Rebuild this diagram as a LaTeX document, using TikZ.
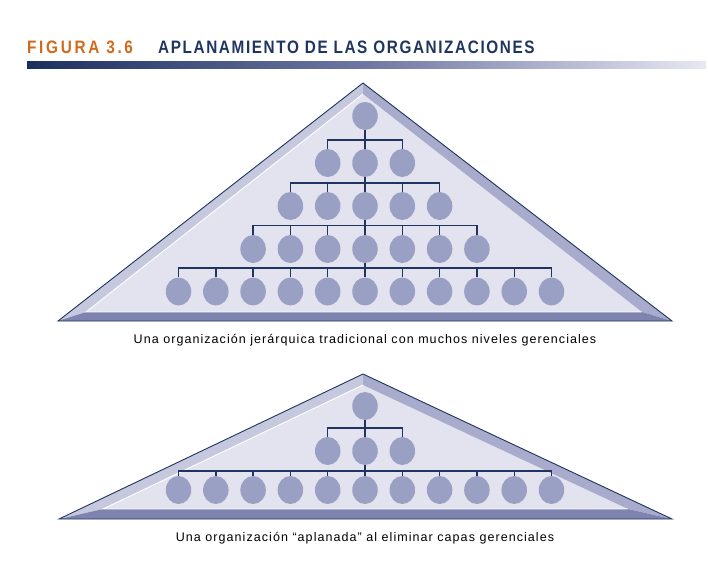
\documentclass[tikz,border=0pt]{standalone}
\usepackage{fontspec}
\setmainfont{Liberation Sans}
\newfontfamily\titlefont[FakeStretch=0.85,LetterSpace=9]{Liberation Sans Bold}
\newfontfamily\figfont[FakeStretch=0.85,LetterSpace=15]{Liberation Sans Bold}
\newfontfamily\capfont[LetterSpace=8.5]{Liberation Sans}
\usetikzlibrary{shapes.geometric,calc}
\definecolor{face}{HTML}{E3E3EF}
\definecolor{lbevel}{HTML}{C6C8DE}
\definecolor{rbevel}{HTML}{A8ABCB}
\definecolor{band}{HTML}{7E83B0}
\definecolor{navy}{HTML}{1F3560}
\definecolor{circ}{HTML}{9AA0C4}
\definecolor{orangeT}{HTML}{D06A1C}
\definecolor{barL}{HTML}{1B2F5E}
\definecolor{barM}{HTML}{6E77A3}
\definecolor{barR}{HTML}{E8E8F3}
\tikzset{
  member/.style={ellipse, fill=circ, draw=none, minimum width=25.5pt, minimum height=28pt, inner sep=0pt},
  conn/.style={draw=navy, line width=1.4pt},
  outline/.style={draw=navy, line width=0.9pt, line join=miter},
  hilite/.style={draw=white, line width=0.9pt},
  caption/.style={font=\capfont\fontsize{12.5}{14}\selectfont, text=black, anchor=center, inner sep=0pt},
  titletext/.style={anchor=base west, inner sep=0pt},
}
\begin{document}
\begin{tikzpicture}[x=1pt,y=-1pt]
\useasboundingbox (0,0) rectangle (708,564);
% title
\node[titletext, text=orangeT, font=\figfont\fontsize{18}{20}\selectfont] (fig) at (27,54) {FIGURA 3.6};
\node[titletext, text=navy, font=\titlefont\fontsize{18}{20}\selectfont] (ttl) at (158,54) {APLANAMIENTO DE LAS ORGANIZACIONES};
\shade[left color=barL, right color=barR, middle color=barM] (27,62) rectangle (706,69);

% ---------- top pyramid ----------
\coordinate (TA) at (363,83);  \coordinate (TL) at (58,321);  \coordinate (TR) at (672,321);
\coordinate (ta) at (363,94);  \coordinate (tl) at (86,312);  \coordinate (tr) at (642,312);
\fill[face] (ta) -- (tl) -- (tr) -- cycle;
\fill[lbevel] (TA) -- (TL) -- (tl) -- (ta) -- cycle;
\fill[rbevel] (TA) -- (ta) -- (tr) -- (TR) -- cycle;
\fill[band] (TL) -- (tl) -- (tr) -- (TR) -- cycle;
\draw[hilite] (ta) -- (tl) -- (tr);
\draw[outline] (TA) -- (TL) -- (TR) -- cycle;

% members top
\foreach \r/\n/\y in {1/1/116, 2/3/163, 3/5/206, 4/7/249, 5/11/291.5}{
  \pgfmathtruncatemacro{\half}{(\n-1)/2}
  \foreach \i in {1,...,\n}{
    \node[member] (t\r-\i) at ({365+(\i-1-\half)*37.3},\y) {};
  }
}
% connectors top
\foreach \c/\n/\b in {2/3/140, 3/5/183, 4/7/225.5, 5/11/268}{
  \coordinate (tb\c-L) at (t\c-1.north |- 0,\b);
  \coordinate (tb\c-R) at (t\c-\n.north |- 0,\b);
  \draw[conn] (t\c-1.north) -- (tb\c-L) -- (tb\c-R) -- (t\c-\n.north);
  \foreach \i in {2,...,\n}{ \draw[conn] (t\c-\i.north) -- (t\c-\i.north |- tb\c-L); }
}
\draw[conn] (t1-1.south) -- (t1-1.south |- tb2-L);
\draw[conn] (t2-2.south) -- (t2-2.south |- tb3-L);
\draw[conn] (t3-3.south) -- (t3-3.south |- tb4-L);
\draw[conn] (t4-4.south) -- (t4-4.south |- tb5-L);

\node[caption] (cap1) at (365,340) {Una organización jerárquica tradicional con muchos niveles gerenciales};

% ---------- bottom pyramid ----------
\coordinate (BA) at (363,374);  \coordinate (BL) at (59,519);  \coordinate (BR) at (672,519);
\coordinate (ba) at (363,385);  \coordinate (bl) at (103,509); \coordinate (br) at (628,509);
\fill[face] (ba) -- (bl) -- (br) -- cycle;
\fill[lbevel] (BA) -- (BL) -- (bl) -- (ba) -- cycle;
\fill[rbevel] (BA) -- (ba) -- (br) -- (BR) -- cycle;
\fill[band] (BL) -- (bl) -- (br) -- (BR) -- cycle;
\draw[hilite] (ba) -- (bl) -- (br);
\draw[outline] (BA) -- (BL) -- (BR) -- cycle;

\foreach \r/\n/\y in {1/1/406, 2/3/451, 3/11/490}{
  \pgfmathtruncatemacro{\half}{(\n-1)/2}
  \foreach \i in {1,...,\n}{
    \node[member] (b\r-\i) at ({365+(\i-1-\half)*37.3},\y) {};
  }
}
\foreach \c/\n/\b in {2/3/428, 3/11/471}{
  \coordinate (bb\c-L) at (b\c-1.north |- 0,\b);
  \coordinate (bb\c-R) at (b\c-\n.north |- 0,\b);
  \draw[conn] (b\c-1.north) -- (bb\c-L) -- (bb\c-R) -- (b\c-\n.north);
  \foreach \i in {2,...,\n}{ \draw[conn] (b\c-\i.north) -- (b\c-\i.north |- bb\c-L); }
}
\draw[conn] (b1-1.south) -- (b1-1.south |- bb2-L);
\draw[conn] (b2-2.south) -- (b2-2.south |- bb3-L);

\node[caption] (cap2) at (365,538) {Una organización “aplanada” al eliminar capas gerenciales};
\end{tikzpicture}
\end{document}
